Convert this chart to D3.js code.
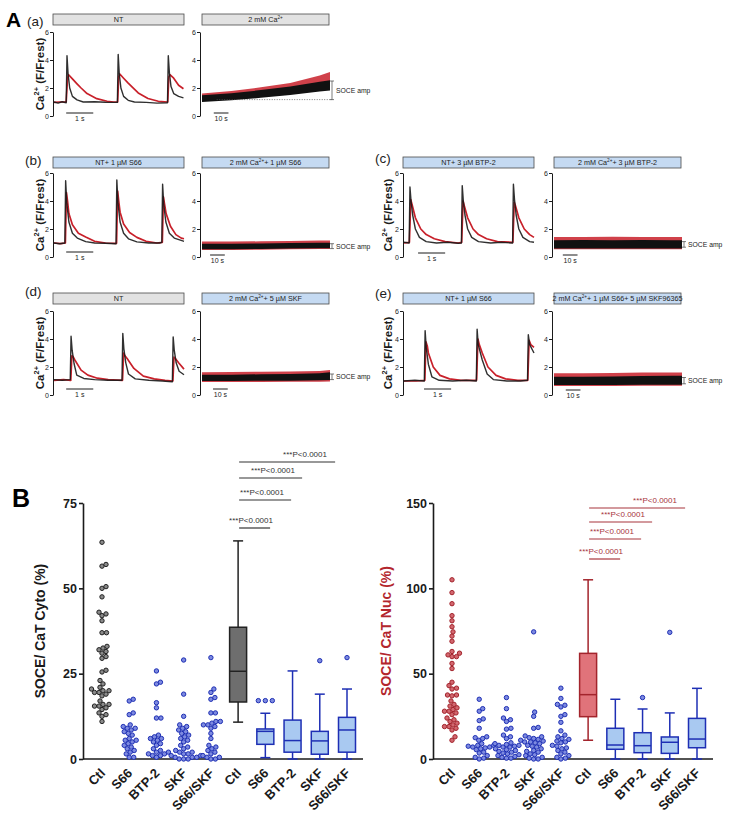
<!DOCTYPE html>
<html>
<head>
<meta charset="utf-8">
<script src="https://cdn.jsdelivr.net/npm/d3@7"></script>
<style>
  body { margin: 0; background: #fff; }
  svg { display: block; }
</style>
</head>
<body>
<script>
// ---- Panel A : Ca2+ transients, [time (s), F/Frest] ----
const aBlack = [[0,1.0],[0.15,0.92],[0.3,1.02],[0.45,0.95],[0.48,4.3],[0.52,3.0],[0.58,2.0],[0.68,1.4],[0.85,1.15],[1.08,1.0],[1.5,1.02],[1.9,0.98],[2.34,0.97],[2.37,4.4],[2.41,3.0],[2.47,2.0],[2.57,1.4],[2.74,1.12],[2.97,1.0],[3.4,0.97],[3.8,0.92],[4.19,0.95],[4.22,4.3],[4.26,3.1],[4.32,2.1],[4.42,1.6],[4.6,1.4],[4.78,1.3]];
const aRed = [[0,0.98],[0.2,1.0],[0.45,1.0],[0.5,2.7],[0.54,2.95],[0.68,2.65],[0.85,2.3],[1.0,2.0],[1.22,1.6],[1.58,1.24],[1.96,1.05],[2.2,1.0],[2.35,1.0],[2.39,2.8],[2.43,3.0],[2.57,2.7],[2.74,2.35],[2.9,2.05],[3.11,1.65],[3.47,1.25],[3.85,1.05],[4.2,1.0],[4.24,2.8],[4.28,2.95],[4.42,2.7],[4.6,2.2],[4.78,1.95]];
const bBlack = [[0,1.0],[0.2,0.95],[0.4,1.0],[0.43,5.45],[0.47,3.9],[0.55,2.5],[0.68,1.7],[0.86,1.35],[1.17,1.1],[1.5,1.0],[1.9,0.98],[2.29,0.95],[2.32,5.5],[2.36,3.9],[2.44,2.5],[2.57,1.7],[2.75,1.3],[3.06,1.08],[3.5,1.0],[3.9,1.0],[3.98,1.05],[4.01,5.2],[4.05,3.8],[4.13,2.5],[4.26,1.7],[4.44,1.35],[4.75,1.15],[4.8,1.12]];
const bRed = [[0,1.0],[0.25,0.95],[0.42,1.0],[0.46,4.6],[0.5,4.0],[0.55,3.1],[0.68,2.3],[0.9,1.7],[1.17,1.43],[1.5,1.12],[1.9,1.0],[2.31,0.98],[2.35,4.7],[2.39,4.0],[2.44,3.2],[2.57,2.35],[2.79,1.75],[3.06,1.4],[3.4,1.12],[3.8,1.0],[4.0,1.05],[4.04,4.3],[4.08,3.8],[4.14,3.1],[4.3,2.2],[4.5,1.6],[4.7,1.35],[4.8,1.3]];
const cBlack = [[0,1.05],[0.19,1.0],[0.22,5.0],[0.26,4.0],[0.32,3.0],[0.42,2.0],[0.57,1.4],[0.82,1.1],[1.2,1.0],[1.6,1.05],[2.0,0.98],[2.12,1.0],[2.15,5.1],[2.19,4.0],[2.25,3.0],[2.35,2.0],[2.5,1.4],[2.75,1.1],[3.2,1.0],[3.6,1.05],[4.01,1.0],[4.04,5.2],[4.08,4.1],[4.14,3.0],[4.24,2.0],[4.39,1.4],[4.64,1.1],[4.8,1.05]];
const cRed = [[0,1.0],[0.2,1.05],[0.25,4.1],[0.29,3.8],[0.42,2.8],[0.62,2.0],[0.82,1.6],[1.12,1.3],[1.52,1.1],[2.0,1.0],[2.13,1.05],[2.18,4.0],[2.22,3.7],[2.35,2.8],[2.55,2.0],[2.75,1.6],[3.05,1.3],[3.45,1.1],[4.02,1.05],[4.07,3.9],[4.11,3.7],[4.24,2.8],[4.44,2.0],[4.64,1.6],[4.8,1.4]];
const dBlack = [[0,1.1],[0.3,1.05],[0.6,1.1],[0.63,4.2],[0.67,3.2],[0.74,2.25],[0.84,1.42],[1.1,1.18],[1.5,1.1],[2.0,1.05],[2.51,1.05],[2.54,4.4],[2.58,3.3],[2.65,2.3],[2.75,1.5],[3.0,1.15],[3.5,1.05],[4.0,1.0],[4.37,0.95],[4.4,4.15],[4.44,3.2],[4.51,2.3],[4.62,1.7],[4.8,1.45]];
const dRed = [[0,1.05],[0.35,1.1],[0.62,1.05],[0.66,2.8],[0.7,2.75],[0.77,2.5],[1.0,1.78],[1.25,1.42],[1.6,1.2],[2.0,1.1],[2.53,1.05],[2.57,3.0],[2.62,2.8],[2.7,2.6],[2.95,1.9],[3.3,1.35],[3.7,1.15],[4.1,1.05],[4.39,1.0],[4.43,2.7],[4.48,2.6],[4.6,2.3],[4.8,1.85]];
const eBlack = [[0,1.0],[0.4,1.05],[0.75,1.0],[0.78,4.6],[0.82,3.4],[0.9,2.2],[1.03,1.3],[1.3,1.05],[1.8,1.0],[2.3,1.05],[2.67,1.0],[2.7,4.7],[2.74,3.6],[2.89,2.5],[3.07,1.5],[3.3,1.1],[3.8,1.0],[4.3,1.0],[4.56,1.05],[4.59,4.3],[4.64,3.6],[4.8,3.0]];
const eRed = [[0,1.0],[0.45,1.0],[0.77,1.05],[0.81,3.8],[0.86,3.5],[0.9,3.0],[1.08,2.0],[1.33,1.4],[1.68,1.15],[2.1,1.05],[2.68,1.05],[2.73,4.0],[2.78,3.6],[2.89,3.0],[3.1,2.0],[3.4,1.4],[3.75,1.15],[4.2,1.05],[4.57,1.05],[4.62,3.9],[4.68,3.6],[4.8,3.4]];

// SOCE recordings: time (s) and [low, high] envelope of the noisy trace
const socT = [0, 20, 40, 60, 80, 87];
const aSocBlack = [[1.0,1.48],[1.12,1.62],[1.3,1.85],[1.5,2.1],[1.75,2.45],[1.83,2.55]];
const aSocRed   = [[1.1,1.6],[1.25,1.78],[1.5,2.05],[1.75,2.35],[2.15,2.9],[2.3,3.14]];
const bSocBlack = [[0.55,0.95],[0.55,0.95],[0.57,0.97],[0.6,1.0],[0.62,1.02],[0.62,1.02]];
const bSocRed   = [[0.5,1.1],[0.5,1.1],[0.52,1.12],[0.55,1.15],[0.57,1.18],[0.57,1.18]];
const cSocBlack = [[0.6,1.2],[0.6,1.22],[0.6,1.2],[0.6,1.22],[0.6,1.2],[0.6,1.2]];
const cSocRed   = [[0.55,1.42],[0.55,1.42],[0.55,1.45],[0.55,1.42],[0.55,1.42],[0.55,1.42]];
const dSocBlack = [[1.0,1.45],[1.0,1.45],[1.02,1.48],[1.02,1.5],[1.05,1.55],[1.07,1.62]];
const dSocRed   = [[0.92,1.62],[0.92,1.65],[0.92,1.66],[0.94,1.68],[0.94,1.72],[0.96,1.78]];
const eSocBlack = [[0.72,1.3],[0.72,1.3],[0.72,1.32],[0.74,1.35],[0.74,1.38],[0.74,1.38]];
const eSocRed   = [[0.64,1.55],[0.64,1.55],[0.64,1.57],[0.66,1.6],[0.66,1.6],[0.66,1.6]];
const aAmp = [1.17, 2.5], bAmp = [0.6, 0.95], cAmp = [0.7, 1.1], dAmp = [1.1, 1.5], eAmp = [0.8, 1.25];
const caTicks = [0, 2, 4, 6];

// ---- Panel B : SOCE / CaT (%) ----
const groups = ["Ctl", "S66", "BTP-2", "SKF", "S66/SKF"];
const cytoCtl = [63.5,57,56.5,50.5,50,47.5,43,42.5,42,40.5,37,37,33,32.5,32,31.5,31,30,29.5,26,25.5,23,22,21,20.5,20,20,19.5,19.5,19,18.5,17,16,16,15.5,15.5,15,14.5,13.5,13,12.5,11];
const cytoS66 = [17.5,17,13.5,13,10,9.5,9,9,8.5,8,7.5,7,6,5.5,5.5,5,4.5,4,3.5,3,2.5,2,1.5,0.5,0.5];
const cytoBTP = [25.8,22.5,22,16.5,15,12,12,7,6.5,6,6,5.5,5,4.5,4,3,2.5,2,2,1.5,1.5,1,1,0.5];
const cytoSKF = [29,19,12.5,10,9.5,9,8.5,8,7.5,7,6.5,6,5.5,5,4,3.5,3,2.5,2,2,1.5,1.5,1,1,0.5,0.5,0.5,0,0,0];
const cytoS66SKF = [29.7,20.5,19.5,18,17.5,13.5,13.5,11,11,10.5,10,10,9.5,9,7.5,6,4,3.5,3,2.5,2,1.5,1,0.5,0.5,0,0];
// [whisker low, Q1, median, Q3, whisker high]
const cytoBoxes = [[10.8,16.7,25.7,38.6,63.9],[0.4,4.3,8.1,8.8,13.4],[0,2,5.4,11.4,25.8],[0,1.4,5.3,8.1,19],[0,2,8.5,12.2,20.5]];
const cytoOutliers = [[],[17.1,17.1,17.1],[],[28.8],[29.7]];
const cytoTicks = [0, 25, 50, 75];

const nucCtl = [105,97.5,91,84,81,77.5,74.5,72,69,63,62,61,60,60,56,53,45,43,41.5,41,37.5,37.5,37,34,32,31,30,29,28,28,27,26,24,23,22,21,20,19,19,18,17,13,11];
const nucS66 = [35,29.5,28,23.5,22.5,18,13,12.5,12,11,9,8,8,7.5,7,7,6.5,6,5.5,4,3.5,2,1,0.5,0];
const nucBTP = [36,29.5,24,23,22,18,17.5,14,13,12,9.5,9,8.5,8,8,7.5,7,7,6,5.5,5,4.5,4,3.5,3,2.5,2,1.5,1,0.5,0.5];
const nucSKF = [74.5,27.5,25,18.5,18,13.5,13,12.5,12,11.5,11,10.5,10,10,9.5,9,8,7.5,7,6,5,4.5,4,3,2.5,2,1,0.5,0,0];
const nucS66SKF = [41.5,35.5,32,31.5,30.5,26,25,21.5,16.5,14,13,12,11.5,10.5,10,9.5,8,7.5,6.5,6,5,4,3,2,1,0.5,0];
const nucBoxes = [[11,24.8,37.7,61.9,105],[0,5.7,8.2,18,35],[0,3.7,7.8,15.4,29.3],[0,3.3,9.8,12.9,27],[0,6.6,11.7,23.8,41.4]];
const nucOutliers = [[],[],[36],[74.2],[]];
const nucTicks = [0, 50, 100, 150];
const pText = "***P<0.0001";

const FONT = '"Liberation Sans", Arial, Helvetica, sans-serif';
const RED = "#c8202a", DARK = "#1a1a1a";
const svg = d3.select("body").append("svg")
  .attr("width", 729).attr("height", 820)
  .style("font-family", FONT);

// text with {..} parts as superscript
function rich(t, str, fs) {
  let up = false;
  str.split(/(\{[^}]*\})/).forEach(p => {
    if (!p) return;
    if (p[0] === "{") {
      t.append("tspan").attr("font-size", fs * 0.65).attr("dy", -fs * 0.4).text(p.slice(1, -1));
      up = true;
    } else {
      const s = t.append("tspan").text(p);
      if (up) { s.attr("dy", fs * 0.4); up = false; }
    }
  });
}

function styleAxis(g, fs, weight, col) {
  g.attr("font-family", FONT);
  g.select(".domain").attr("stroke", col || DARK);
  g.selectAll(".tick line").attr("stroke", col || DARK);
  g.selectAll(".tick text").attr("font-size", fs).attr("fill", col || DARK).attr("font-weight", weight || "normal");
}

function banner(x1, x2, y, label, gray) {
  svg.append("rect").attr("x", x1).attr("y", y).attr("width", x2 - x1).attr("height", 11)
    .attr("fill", gray ? "#e2e2e2" : "#c5daf2").attr("stroke", "#4a4a4a").attr("stroke-width", 0.8);
  const t = svg.append("text").attr("x", (x1 + x2) / 2).attr("y", y + 8.3)
    .attr("text-anchor", "middle").attr("font-size", 7.2).attr("fill", "#222");
  rich(t, label, 7.2);
}

// ---------- Panel A ----------
const panelsA = [
  { tag: "(a)", tx: 27, ty: 26, x0: 53, s0: 200, yt: 32, yb: 116, by: 14, lx: 44,
    black: aBlack, red: aRed, socB: aSocBlack, socR: aSocRed, amp: aAmp, dotted: true,
    tLab: "NT", tGray: true, sLab: "2 mM Ca{2+}", sGray: true, bar: 0.45, barY: 113, sbar: 8, sbarY: 113 },
  { tag: "(b)", tx: 25, ty: 165, x0: 53, s0: 200, yt: 173, yb: 257, by: 157, lx: 44,
    black: bBlack, red: bRed, socB: bSocBlack, socR: bSocRed, amp: bAmp,
    tLab: "NT+ 1 µM S66", tGray: false, sLab: "2 mM Ca{2+}+ 1 µM S66", sGray: false, bar: 0.45, barY: 252, sbar: 5.5, sbarY: 255 },
  { tag: "(c)", tx: 375, ty: 163, x0: 403, s0: 552, yt: 173, yb: 257, by: 157, lx: 392,
    black: cBlack, red: cRed, socB: cSocBlack, socR: cSocRed, amp: cAmp,
    tLab: "NT+ 3 µM BTP-2", tGray: false, sLab: "2 mM Ca{2+}+ 3 µM BTP-2", sGray: false, bar: 0.52, barY: 253, sbar: 6, sbarY: 255 },
  { tag: "(d)", tx: 25, ty: 296, x0: 53, s0: 200, yt: 311, yb: 395, by: 293, lx: 44,
    black: dBlack, red: dRed, socB: dSocBlack, socR: dSocRed, amp: dAmp,
    tLab: "NT", tGray: true, sLab: "2 mM Ca{2+}+ 5 µM SKF", sGray: false, bar: 0.45, barY: 389, sbar: 7.5, sbarY: 389 },
  { tag: "(e)", tx: 375, ty: 298, x0: 403, s0: 552, yt: 311, yb: 395, by: 293, lx: 392,
    black: eBlack, red: eRed, socB: eSocBlack, socR: eSocRed, amp: eAmp,
    tLab: "NT+ 1 µM S66", tGray: false, sLab: "2 mM Ca{2+}+ 1 µM S66+ 5 µM SKF96365", sGray: false, bar: 0.74, barY: 389, sbar: 8, sbarY: 390 }
];

svg.append("text").attr("x", 6).attr("y", 27).attr("font-size", 21).attr("font-weight", "bold").text("A");

panelsA.forEach(p => {
  svg.append("text").attr("x", p.tx).attr("y", p.ty).attr("font-size", 13.5).attr("fill", "#222").text(p.tag);

  // transient recording
  const x = d3.scaleLinear().domain([0, 4.8]).range([p.x0 + 1, p.x0 + 131]);
  const y = d3.scaleLinear().domain([0, 6]).range([p.yb, p.yt]);
  const ax = d3.axisLeft(y).tickValues(caTicks).tickFormat(d3.format("d")).tickSize(3).tickSizeOuter(0).tickPadding(1);
  banner(p.x0, p.x0 + 131, p.by, p.tLab, p.tGray);
  svg.append("g").attr("transform", `translate(${p.x0},0)`).call(ax).call(styleAxis, 7);
  const line = d3.line().x(d => x(d[0])).y(d => y(d[1]));
  svg.append("path").attr("d", line(p.red)).attr("fill", "none").attr("stroke", RED)
    .attr("stroke-width", 1.7).attr("stroke-linejoin", "round");
  svg.append("path").attr("d", line(p.black)).attr("fill", "none").attr("stroke", DARK)
    .attr("stroke-width", 1.4).attr("stroke-linejoin", "round").attr("opacity", 0.9);
  svg.append("line").attr("x1", x(p.bar)).attr("x2", x(p.bar + 1)).attr("y1", p.barY).attr("y2", p.barY)
    .attr("stroke", DARK).attr("stroke-width", 1);
  svg.append("text").attr("x", x(p.bar + 0.5)).attr("y", p.barY + 8).attr("text-anchor", "middle")
    .attr("font-size", 7).attr("fill", "#222").text("1 s");
  const yl = svg.append("text")
    .attr("transform", `translate(${p.lx},${(p.yt + p.yb) / 2}) rotate(-90)`)
    .attr("text-anchor", "middle").attr("font-size", 11.5).attr("font-weight", "bold").attr("fill", DARK);
  rich(yl, "Ca{2+} (F/Frest)", 11.5);

  // SOCE recording
  const xs = d3.scaleLinear().domain([0, 87]).range([p.s0 + 2, p.s0 + 130]);
  banner(p.s0 + 2, p.s0 + 129, p.by, p.sLab, p.sGray);
  svg.append("g").attr("transform", `translate(${p.s0},0)`).call(ax).call(styleAxis, 7);
  const area = d3.area().x((d, i) => xs(socT[i])).y0(d => y(d[0])).y1(d => y(d[1]));
  svg.append("path").attr("d", area(p.socR)).attr("fill", RED).attr("opacity", 0.85);
  svg.append("path").attr("d", area(p.socB)).attr("fill", "#111");
  const bx = p.s0 + 132;
  if (p.dotted) {
    svg.append("line").attr("x1", xs(10)).attr("x2", bx).attr("y1", y(p.amp[0])).attr("y2", y(p.amp[0]))
      .attr("stroke", "#555").attr("stroke-width", 0.8).attr("stroke-dasharray", "1,1.5");
  }
  svg.append("path")
    .attr("d", `M${bx - 2},${y(p.amp[0])}H${bx + 2}M${bx},${y(p.amp[0])}V${y(p.amp[1])}M${bx - 2},${y(p.amp[1])}H${bx + 2}`)
    .attr("stroke", "#444").attr("stroke-width", 0.7).attr("fill", "none");
  svg.append("text").attr("x", bx + 4).attr("y", y((p.amp[0] + p.amp[1]) / 2) + 2.5)
    .attr("font-size", 6.8).attr("fill", "#222").text("SOCE amp");
  svg.append("line").attr("x1", xs(p.sbar)).attr("x2", xs(p.sbar + 10)).attr("y1", p.sbarY).attr("y2", p.sbarY)
    .attr("stroke", DARK).attr("stroke-width", 1);
  svg.append("text").attr("x", xs(p.sbar + 5)).attr("y", p.sbarY + 8).attr("text-anchor", "middle")
    .attr("font-size", 7).attr("fill", "#222").text("10 s");
});

// ---------- Panel B ----------
svg.append("text").attr("x", 12).attr("y", 507).attr("font-size", 25).attr("font-weight", "bold").text("B");

// simple beeswarm: nudge each dot sideways until it no longer overlaps
function swarm(vals, cx, y, gap) {
  const placed = [];
  vals.slice().sort((a, b) => a - b).forEach(v => {
    const cy = y(v);
    for (let k = 0; k < 400; k++) {
      const px = cx + (k % 2 ? 1 : -1) * Math.ceil(k / 2) * 0.5;
      if (placed.every(q => (q[0] - px) ** 2 + (q[1] - cy) ** 2 >= gap * gap)) {
        placed.push([px, cy]);
        break;
      }
    }
  });
  return placed;
}

const panelsB = [
  { x0: 83, max: 75, ticks: cytoTicks, dots: [cytoCtl, cytoS66, cytoBTP, cytoSKF, cytoS66SKF],
    boxes: cytoBoxes, outliers: cytoOutliers, label: "SOCE/ CaT Cyto (%)", labCol: DARK, lx: 45,
    ctlStroke: "#222", ctlDot: "#8a8a8a", ctlBox: "#6e6e6e", pCol: "#333",
    lineY: [528, 500, 478, 462] },
  { x0: 433, max: 150, ticks: nucTicks, dots: [nucCtl, nucS66, nucBTP, nucSKF, nucS66SKF],
    boxes: nucBoxes, outliers: nucOutliers, label: "SOCE/ CaT Nuc (%)", labCol: "#b3262d", lx: 391,
    ctlStroke: "#a3242c", ctlDot: "#d2676f", ctlBox: "#e0737a", pCol: "#a8343c",
    lineY: [559, 539, 522, 508] }
];
const BLUE = "#1e2fb4", BLUEDOT = "#7d8ae0", BLUEBOX = "#a9c9f1";
const lineEnd = [32, 53, 64, 97], textStart = [-9, 2, 13, 45];

panelsB.forEach(o => {
  const y = d3.scaleLinear().domain([0, o.max]).range([759, 503]);
  const x = d3.scalePoint().domain(d3.range(10)).range([o.x0 + 19, o.x0 + 264]);

  svg.append("g").attr("transform", `translate(${o.x0},0)`)
    .call(d3.axisLeft(y).tickValues(o.ticks).tickSize(4).tickSizeOuter(0).tickPadding(2))
    .call(styleAxis, 12.5, "bold")
    .call(g => g.selectAll(".domain, .tick line").attr("stroke-width", 1.6));
  svg.append("line").attr("x1", o.x0).attr("x2", o.x0 + 280).attr("y1", 759).attr("y2", 759)
    .attr("stroke", DARK).attr("stroke-width", 1.6);

  groups.concat(groups).forEach((g, i) => {
    svg.append("text").attr("transform", `translate(${x(i) + 4},${774}) rotate(-45)`)
      .attr("text-anchor", "end").attr("font-size", 13).attr("font-weight", "bold").attr("fill", DARK).text(g);
  });

  svg.append("text").attr("transform", `translate(${o.lx},${631}) rotate(-90)`)
    .attr("text-anchor", "middle").attr("font-size", 14).attr("font-weight", "bold").attr("fill", o.labCol)
    .text(o.label);

  // scatter columns
  o.dots.forEach((vals, i) => {
    const ctl = i === 0;
    svg.append("g").selectAll("circle").data(swarm(vals, x(i), y, 4.3)).join("circle")
      .attr("cx", d => d[0]).attr("cy", d => d[1]).attr("r", 2.2)
      .attr("fill", ctl ? o.ctlDot : BLUEDOT).attr("stroke", ctl ? o.ctlStroke : BLUE).attr("stroke-width", 1);
  });

  // box plots
  o.boxes.forEach((b, i) => {
    const cx = x(i + 5), ctl = i === 0;
    const sc = ctl ? o.ctlStroke : BLUE, fc = ctl ? o.ctlBox : BLUEBOX;
    const g = svg.append("g").attr("stroke", sc).attr("stroke-width", 1.5);
    g.append("line").attr("x1", cx).attr("x2", cx).attr("y1", y(b[0])).attr("y2", y(b[4]));
    g.append("line").attr("x1", cx - 5).attr("x2", cx + 5).attr("y1", y(b[0])).attr("y2", y(b[0]));
    g.append("line").attr("x1", cx - 5).attr("x2", cx + 5).attr("y1", y(b[4])).attr("y2", y(b[4]));
    g.append("rect").attr("x", cx - 8.5).attr("width", 17).attr("y", y(b[3])).attr("height", y(b[1]) - y(b[3]))
      .attr("fill", fc);
    g.append("line").attr("x1", cx - 8.5).attr("x2", cx + 8.5).attr("y1", y(b[2])).attr("y2", y(b[2]));
    svg.append("g").selectAll("circle").data(swarm(o.outliers[i], cx, y, 7)).join("circle")
      .attr("cx", d => d[0]).attr("cy", d => d[1]).attr("r", 2.2)
      .attr("fill", BLUEDOT).attr("stroke", BLUE).attr("stroke-width", 1);
  });

  // significance bars (Ctl box vs each treatment box)
  [1, 2, 3, 4].forEach((t, k) => {
    const cx = x(5);
    svg.append("line").attr("x1", cx + 1).attr("x2", cx + lineEnd[k]).attr("y1", o.lineY[k]).attr("y2", o.lineY[k])
      .attr("stroke", o.pCol).attr("stroke-width", 1.2);
    svg.append("text").attr("x", cx + textStart[k]).attr("y", o.lineY[k] - 5)
      .attr("font-size", 8).attr("fill", o.pCol).text(pText);
  });
});
</script>
</body>
</html>
